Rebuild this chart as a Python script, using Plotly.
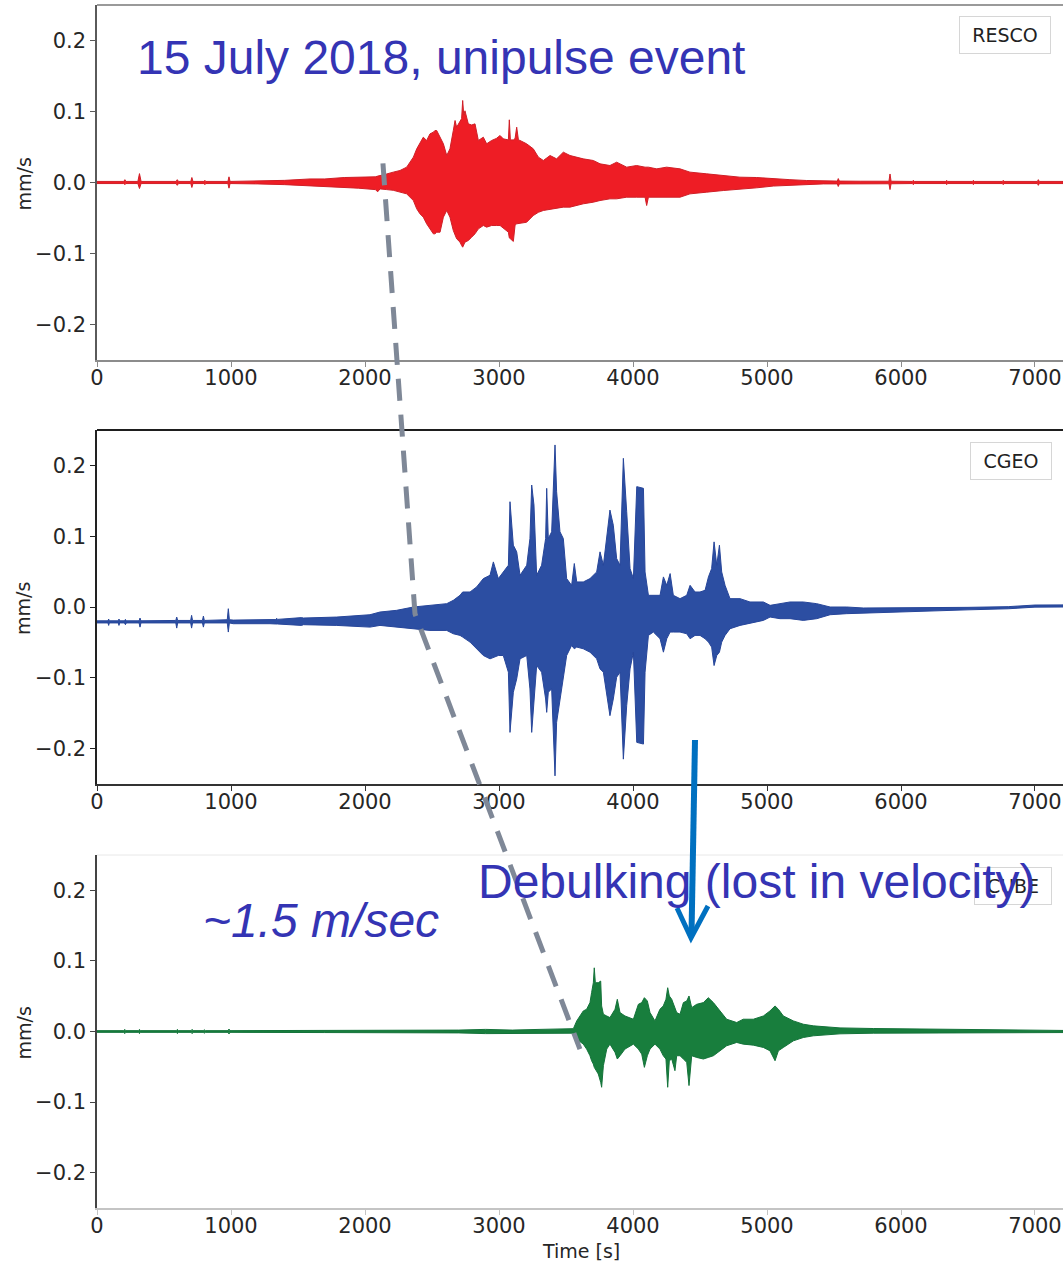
import plotly.graph_objects as go

W, H = 1063, 1264

# ---------------- seismogram envelopes (time [s], upper / lower velocity [mm/s]) ----------------
resco_t = [0, 200, 208, 216, 305, 317, 329, 590, 599, 608, 700, 708, 716, 798, 805, 812,
           977, 985, 993, 1200, 1400, 1590, 1700, 1845, 1950, 2077, 2095,
           2112, 2162, 2211, 2261, 2311, 2361, 2386, 2410, 2435, 2460, 2485, 2510, 2522, 2535,
           2560, 2585, 2610, 2634, 2659, 2672, 2684, 2709, 2721, 2729, 2737, 2746, 2771, 2796,
           2821, 2846, 2883, 2908, 2945, 2980, 3008, 3032, 3070, 3077, 3085, 3107, 3120, 3132,
           3145, 3157, 3206, 3256, 3294, 3331, 3381, 3430, 3480, 3530, 3580, 3629, 3704, 3754,
           3828, 3878, 3953, 4027, 4090, 4102, 4115, 4177, 4251, 4351,
           4425, 4550, 4674, 4798, 4923, 5047, 5171, 5296, 5420, 5525, 5532, 5540, 5700,
           5910, 5918, 5926, 6085, 6092, 6099, 6335, 6341, 6347, 6535, 6540, 6546,
           6757, 6763, 6769, 7018, 7025, 7032, 7209]
resco_hi = [0.0015, 0.0015, 0.004, 0.0015, 0.0015, 0.0125, 0.0015, 0.0015, 0.004, 0.0015,
            0.0015, 0.007, 0.0015, 0.0015, 0.003, 0.0015, 0.0015, 0.008, 0.0015, 0.002, 0.003,
            0.005, 0.005, 0.007, 0.007, 0.008, 0.009,
            0.010, 0.012, 0.0146, 0.0169, 0.0216, 0.0357, 0.0474, 0.0545, 0.0638, 0.0592, 0.0685,
            0.0709, 0.0732, 0.0732, 0.0638, 0.0545, 0.0380, 0.0474, 0.0732, 0.0873, 0.0779,
            0.0850, 0.0900, 0.1155, 0.0950, 0.1010, 0.0826, 0.0810, 0.0826, 0.0592, 0.0638,
            0.0545, 0.0592, 0.0620, 0.0662, 0.0615, 0.0600, 0.0883, 0.0600, 0.0600, 0.0620,
            0.0779, 0.0600, 0.0592, 0.0545, 0.0474, 0.0357, 0.0310, 0.0380, 0.0333, 0.0427,
            0.0380, 0.0357, 0.0333, 0.0310, 0.0263, 0.0239, 0.0286, 0.0216, 0.0239, 0.0216,
            0.0216, 0.0216, 0.0192, 0.0216, 0.0192,
            0.0146, 0.0122, 0.0100, 0.0075, 0.0070, 0.0052, 0.0040, 0.0028, 0.0020, 0.0020,
            0.0055, 0.0020, 0.0018, 0.0018, 0.0120, 0.0018, 0.0015, 0.0030, 0.0015, 0.0015,
            0.0030, 0.0015, 0.0015, 0.0030, 0.0015, 0.0015, 0.0030, 0.0015, 0.0015, 0.0040,
            0.0015, 0.0015]
resco_lo = [-0.0015, -0.0015, -0.003, -0.0015, -0.0015, -0.0085, -0.0015, -0.0015, -0.004,
            -0.0015, -0.0015, -0.007, -0.0015, -0.0015, -0.003, -0.0015, -0.0015, -0.008,
            -0.0015, -0.002, -0.003, -0.005, -0.006, -0.007, -0.008, -0.010, -0.013,
            -0.009, -0.010, -0.011, -0.013, -0.016, -0.0254, -0.0371, -0.0441, -0.0488, -0.0582,
            -0.0653, -0.0723, -0.0723, -0.0700, -0.0700, -0.0488, -0.0394, -0.0488, -0.0676,
            -0.0723, -0.0793, -0.0840, -0.0887, -0.0911, -0.0887, -0.0840, -0.0817, -0.0770,
            -0.0723, -0.0653, -0.0606, -0.0629, -0.0606, -0.0606, -0.0606, -0.0640, -0.0700,
            -0.0780, -0.0793, -0.0830, -0.0600, -0.0582, -0.0582, -0.0570, -0.0560, -0.0465,
            -0.0420, -0.0394, -0.0371, -0.0360, -0.0347, -0.0347, -0.0324, -0.0300, -0.0277,
            -0.0254, -0.0230, -0.0230, -0.0207, -0.0207, -0.0207, -0.0324, -0.0207, -0.0207,
            -0.0207, -0.0207,
            -0.0160, -0.0136, -0.0113, -0.0090, -0.0075, -0.0050, -0.0042, -0.0030, -0.0020,
            -0.0020, -0.0056, -0.0020, -0.0018, -0.0018, -0.0100, -0.0018, -0.0015, -0.0030,
            -0.0015, -0.0015, -0.0030, -0.0015, -0.0015, -0.0030, -0.0015, -0.0015, -0.0030,
            -0.0015, -0.0015, -0.0040, -0.0015, -0.0015]

cgeo_t = [0, 82, 87, 92, 159, 164, 169, 205, 212, 219, 314, 321, 328, 588, 595, 602,
          699, 706, 713, 787, 794, 801, 972, 980, 988, 1017, 1291, 1335, 1341, 1347, 1527,
          1540, 1789, 2037,
          2112, 2236, 2361, 2485, 2610, 2659, 2709, 2729, 2784, 2833, 2883, 2933, 2958, 2995,
          3032, 3070, 3082, 3107, 3132, 3157, 3207, 3231, 3244, 3261, 3281, 3318, 3348, 3356,
          3368, 3393, 3418, 3430, 3455, 3480, 3505, 3542, 3562, 3580, 3629, 3679, 3729, 3754,
          3779, 3828, 3853, 3878, 3903, 3928, 3953, 3978, 4003,
          4028, 4078, 4090, 4115, 4152, 4202, 4227, 4252, 4277, 4301, 4351, 4401, 4426, 4463,
          4500, 4538, 4563, 4587, 4605, 4625, 4645, 4662, 4687, 4724, 4799, 4873, 4973, 5023,
          5097, 5172, 5271, 5371, 5471, 5595, 5719, 5993, 6200, 6500, 6800, 7000, 7209]
cgeo_hi = [-0.0195, -0.0195, -0.0170, -0.0195, -0.0195, -0.0170, -0.0195, -0.0195, -0.0175,
           -0.0195, -0.0195, -0.0156, -0.0195, -0.0190, -0.0142, -0.0190, -0.0190, -0.0118,
           -0.0190, -0.0190, -0.0128, -0.0190, -0.0180, -0.0024, -0.0180, -0.0185, -0.0178,
           -0.0178, -0.0160, -0.0175, -0.0150, -0.0156, -0.0142, -0.0109,
           -0.0071, -0.0047, 0.0000, 0.0023, 0.0047, 0.0094, 0.0165, 0.0212, 0.0212, 0.0283,
           0.0401, 0.0448, 0.0637, 0.0401, 0.0495, 0.0590, 0.1487, 0.0873, 0.0779, 0.0448,
           0.0590, 0.0967, 0.1723, 0.1440, 0.0448, 0.0590, 0.0967, 0.1676, 0.0967, 0.1062,
           0.2289, 0.1628, 0.1062, 0.0967, 0.0401, 0.0306, 0.0614, 0.0354, 0.0354, 0.0401,
           0.0495, 0.0779, 0.0590, 0.1369, 0.1156, 0.0684, 0.0590, 0.2100, 0.1346, 0.0543,
           0.0401,
           0.1700, 0.1676, 0.0495, 0.0165, 0.0165, 0.0165, 0.0425, 0.0306, 0.0472, 0.0165,
           0.0118, 0.0165, 0.0306, 0.0212, 0.0212, 0.0236, 0.0425, 0.0543, 0.0920, 0.0590,
           0.0873, 0.0495, 0.0306, 0.0118, 0.0118, 0.0071, 0.0071, 0.0023, 0.0047, 0.0071,
           0.0071, 0.0047, 0.0000, 0.0000, -0.0014, -0.0014, -0.0015, -0.0005, 0.0005,
           0.0028, 0.0030]
cgeo_lo = [-0.0225, -0.0225, -0.0260, -0.0225, -0.0225, -0.0260, -0.0225, -0.0225, -0.0250,
           -0.0225, -0.0225, -0.0284, -0.0225, -0.0225, -0.0298, -0.0225, -0.0225, -0.0298,
           -0.0225, -0.0225, -0.0284, -0.0225, -0.0225, -0.0354, -0.0225, -0.0236, -0.0236,
           -0.0240, -0.0245, -0.0240, -0.0260, -0.0250, -0.0260, -0.0284,
           -0.0260, -0.0284, -0.0307, -0.0331, -0.0331, -0.0378, -0.0401, -0.0425, -0.0496,
           -0.0590, -0.0685, -0.0732, -0.0708, -0.0685, -0.0685, -0.0921, -0.1771, -0.1204,
           -0.1016, -0.0732, -0.0685, -0.1157, -0.1771, -0.1393, -0.0827, -0.0921, -0.1299,
           -0.1488, -0.1204, -0.1157, -0.2385, -0.1629, -0.1299, -0.1016, -0.0685, -0.0543,
           -0.0590, -0.0566, -0.0590, -0.0638, -0.0732, -0.0874, -0.0921, -0.1535, -0.1299,
           -0.0992, -0.0921, -0.2149, -0.1393, -0.0874, -0.0638,
           -0.1912, -0.1936, -0.0921, -0.0401, -0.0354, -0.0448, -0.0638, -0.0448, -0.0354,
           -0.0354, -0.0354, -0.0378, -0.0448, -0.0401, -0.0401, -0.0448, -0.0496, -0.0566,
           -0.0827, -0.0685, -0.0638, -0.0496, -0.0401, -0.0307, -0.0260, -0.0236, -0.0189,
           -0.0142, -0.0165, -0.0165, -0.0189, -0.0165, -0.0109, -0.0094, -0.0080, -0.0071,
           -0.0055, -0.0040, -0.0025, -0.0002, 0.0000]

cube_t = [0, 200, 207, 214, 310, 317, 324, 593, 600, 607, 703, 710, 717, 793, 800, 807,
          978, 985, 992, 1700, 2300, 2700, 2900, 3100, 3306, 3555,
          3580, 3604, 3629, 3654, 3679, 3691, 3704, 3711, 3719, 3741, 3759, 3766, 3779, 3804,
          3828, 3866, 3883, 3903, 3940, 4003, 4040, 4065, 4085, 4107, 4127, 4164, 4201, 4226,
          4246, 4259, 4271, 4289, 4313, 4326, 4351, 4376, 4401, 4418, 4438, 4475, 4525, 4562,
          4600, 4649, 4699, 4774, 4823, 4898, 4973, 5022, 5060, 5085, 5122, 5197, 5271, 5346,
          5421, 5545, 5794, 6042, 6300, 6600, 7209]
cube_hi = [0.0012, 0.0012, 0.0030, 0.0012, 0.0012, 0.0030, 0.0012, 0.0012, 0.0030, 0.0012,
           0.0012, 0.0030, 0.0012, 0.0012, 0.0025, 0.0012, 0.0012, 0.0035, 0.0012, 0.0015,
           0.0015, 0.0020, 0.0030, 0.0020, 0.0030, 0.0040,
           0.0150, 0.0220, 0.0291, 0.0315, 0.0409, 0.0550, 0.0691, 0.0902, 0.0691, 0.0691,
           0.0714, 0.0362, 0.0244, 0.0220, 0.0197, 0.0315, 0.0456, 0.0268, 0.0220, 0.0174,
           0.0385, 0.0409, 0.0479, 0.0432, 0.0268, 0.0150, 0.0315, 0.0362, 0.0456, 0.0620,
           0.0503, 0.0456, 0.0315, 0.0268, 0.0244, 0.0409, 0.0432, 0.0503, 0.0338, 0.0385,
           0.0409, 0.0479, 0.0409, 0.0291, 0.0174, 0.0127, 0.0174, 0.0174, 0.0220, 0.0291,
           0.0362, 0.0315, 0.0220, 0.0150, 0.0103, 0.0080, 0.0070, 0.0051, 0.0042, 0.0037,
           0.0025, 0.0020, 0.0015]
cube_lo = [-0.0012, -0.0012, -0.0030, -0.0012, -0.0012, -0.0030, -0.0012, -0.0012, -0.0030,
           -0.0012, -0.0012, -0.0030, -0.0012, -0.0012, -0.0025, -0.0012, -0.0012, -0.0035,
           -0.0012, -0.0015, -0.0015, -0.0020, -0.0030, -0.0025, -0.0030, -0.0024,
           -0.0108, -0.0146, -0.0179, -0.0249, -0.0343, -0.0414, -0.0461, -0.0508, -0.0531,
           -0.0602, -0.0720, -0.0790, -0.0484, -0.0249, -0.0179, -0.0296, -0.0390, -0.0343,
           -0.0249, -0.0179, -0.0249, -0.0320, -0.0508, -0.0343, -0.0249, -0.0179, -0.0249,
           -0.0343, -0.0390, -0.0790, -0.0414, -0.0390, -0.0555, -0.0343, -0.0343, -0.0390,
           -0.0437, -0.0766, -0.0343, -0.0367, -0.0390, -0.0367, -0.0343, -0.0273, -0.0202,
           -0.0155, -0.0179, -0.0193, -0.0226, -0.0273, -0.0414, -0.0273, -0.0226, -0.0132,
           -0.0085, -0.0061, -0.0052, -0.0033, -0.0024, -0.0019, -0.0015, -0.0015, -0.0015]

stations = ["RESCO", "CGEO", "CUBE"]
fill_colors = ["#EE1D25", "#2C4EA2", "#187E3D"]
edge_colors = ["#D01F27", "#27469A", "#14733A"]
envelopes = [(resco_t, resco_hi, resco_lo), (cgeo_t, cgeo_hi, cgeo_lo), (cube_t, cube_hi, cube_lo)]

# first-arrival times picked on each station [s] and the trace level at the pick [mm/s]
onset_t = [2134, 2373, 3604]
onset_v = [0.027, -0.0095, -0.025]

x_ticks = [0, 1000, 2000, 3000, 4000, 5000, 6000, 7000]
y_ticks = [-0.2, -0.1, 0.0, 0.1, 0.2]
y_ticktext = ["\u22120.2", "\u22120.1", "0.0", "0.1", "0.2"]
X_RANGE = [0, 7209]
Y_RANGE = [-0.25, 0.25]

# ---------------- layout geometry (pixels from the top-left corner) ----------------
def px_x(px):
    return px / W


def px_y(py):
    return 1 - py / H


panel_px = [(5, 360), (430, 784), (855, 1208)]   # top / bottom edge of each plot area
domains = [[px_y(b), px_y(t)] for t, b in panel_px]
x_domain = [px_x(97), 1.0]

left_spine = ["#5A5A5A", "#222222", "#444444"]
bottom_spine = ["#8C8C8C", "#333333", "#C4C4C4"]
top_spine = ["#9A9A9A", "#1E1E1E", "#E8E8E8"]


def to_paper_y(panel, v):
    d0, d1 = domains[panel]
    return d0 + (v - Y_RANGE[0]) / (Y_RANGE[1] - Y_RANGE[0]) * (d1 - d0)


fig = go.Figure()

for i, (t, hi, lo) in enumerate(envelopes):
    suffix = "" if i == 0 else str(i + 1)
    fig.add_trace(go.Scatter(
        x=list(t) + list(t[::-1]),
        y=list(hi) + list(lo[::-1]),
        mode="lines",
        fill="toself",
        fillcolor=fill_colors[i],
        line=dict(color=edge_colors[i], width=1.0),
        name=stations[i],
        xaxis="x" + suffix,
        yaxis="y" + suffix,
        hoverinfo="skip",
    ))

tick_font = dict(family="DejaVu Sans", size=21, color="#262626")
layout = dict(
    width=W, height=H,
    margin=dict(l=0, r=0, t=0, b=0, autoexpand=False),
    paper_bgcolor="white", plot_bgcolor="white",
    showlegend=False,
)
for i in range(3):
    suffix = "" if i == 0 else str(i + 1)
    layout["xaxis" + suffix] = dict(
        domain=x_domain, range=X_RANGE, anchor="y" + suffix, automargin=False,
        tickvals=x_ticks, ticktext=[str(v) for v in x_ticks],
        ticks="outside", ticklen=5, tickwidth=1, tickcolor=bottom_spine[i],
        ticklabelstandoff=-7,
        showline=True, linecolor=bottom_spine[i], linewidth=1.5,
        showgrid=False, zeroline=False, tickfont=tick_font,
    )
    layout["yaxis" + suffix] = dict(
        domain=domains[i], range=Y_RANGE, anchor="x" + suffix, automargin=False,
        tickvals=y_ticks, ticktext=y_ticktext,
        ticks="outside", ticklen=5, tickwidth=1, tickcolor=left_spine[i],
        showline=True, linecolor=left_spine[i], linewidth=1.5,
        showgrid=False, zeroline=False, tickfont=tick_font,
    )
fig.update_layout(**layout)

shapes = []
# top frame lines of the three panels
for i in range(3):
    yy = domains[i][1]
    shapes.append(dict(type="line", xref="paper", yref="paper",
                       x0=x_domain[0], x1=1.0, y0=yy, y1=yy,
                       line=dict(color=top_spine[i], width=2 if i < 2 else 1)))

# dashed line joining the first arrivals
pts = [(onset_t[i], to_paper_y(i, onset_v[i])) for i in range(3)]
path = "M {},{} L {},{} L {},{}".format(pts[0][0], pts[0][1], pts[1][0], pts[1][1],
                                         pts[2][0], pts[2][1])
shapes.append(dict(type="path", xref="x", yref="paper", path=path,
                   line=dict(color="#7F8897", width=5, dash="22px,14px")))

# blue arrow (shaft and open head)
arrow_col = "#0070C0"
shapes.append(dict(type="line", xref="paper", yref="paper",
                   x0=px_x(695), y0=px_y(740), x1=px_x(691.5), y1=px_y(934),
                   line=dict(color=arrow_col, width=6)))
shapes.append(dict(type="path", xref="paper", yref="paper",
                   path="M {},{} L {},{} L {},{}".format(px_x(677), px_y(908), px_x(691), px_y(938),
                                                          px_x(708), px_y(906)),
                   line=dict(color=arrow_col, width=5)))
fig.update_layout(shapes=shapes)

annotations = []
# station legend boxes
legend_boxes = [("RESCO", 1005, 35, 90), ("CGEO", 1011, 461, 80), ("CUBE", 1013, 886, 76)]
for name, cx, cy, bw in legend_boxes:
    annotations.append(dict(
        text=name, xref="paper", yref="paper", x=px_x(cx), y=px_y(cy),
        xanchor="center", yanchor="middle", showarrow=False,
        width=bw, height=36, bgcolor="rgba(255,255,255,0.85)",
        bordercolor="#D6D6D6", borderwidth=1, borderpad=0,
        font=dict(family="DejaVu Sans", size=19, color="#222222"),
    ))

# axis titles
for i in range(3):
    cy = (panel_px[i][0] + panel_px[i][1]) / 2 + 2
    annotations.append(dict(text="mm/s", xref="paper", yref="paper", x=px_x(23), y=px_y(cy),
                            xanchor="center", yanchor="middle", showarrow=False, textangle=-90,
                            font=dict(family="DejaVu Sans", size=19, color="#262626")))
annotations.append(dict(text="Time [s]", xref="paper", yref="paper", x=px_x(581), y=px_y(1251),
                        xanchor="center", yanchor="middle", showarrow=False,
                        font=dict(family="DejaVu Sans", size=19, color="#262626")))

text_blue = "#3434B4"
annotations.append(dict(text="15 July 2018, unipulse event", xref="paper", yref="paper",
                        x=px_x(135), y=px_y(57), xanchor="left", yanchor="middle",
                        showarrow=False,
                        font=dict(family="Liberation Sans, Arial", size=48, color=text_blue)))
annotations.append(dict(text="<i>~1.5 m/sec</i>", xref="paper", yref="paper",
                        x=px_x(201), y=px_y(920), xanchor="left", yanchor="middle",
                        showarrow=False,
                        font=dict(family="Liberation Sans, Arial", size=48, color=text_blue)))
annotations.append(dict(text="Debulking (lost in velocity)", xref="paper", yref="paper",
                        x=px_x(476), y=px_y(881), xanchor="left", yanchor="middle",
                        showarrow=False,
                        font=dict(family="Liberation Sans, Arial", size=48, color=text_blue)))
fig.update_layout(annotations=annotations)

fig.write_html("out.html")
